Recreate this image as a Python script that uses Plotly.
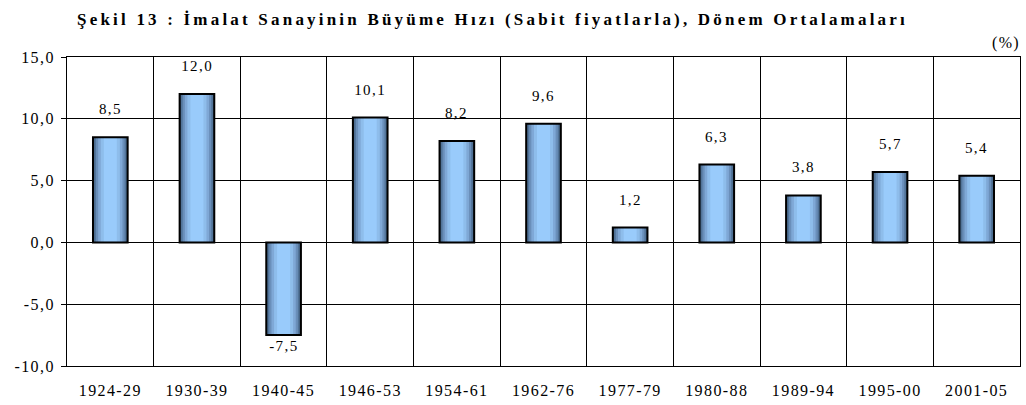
import plotly.graph_objects as go

categories = ["1924-29", "1930-39", "1940-45", "1946-53", "1954-61", "1962-76",
              "1977-79", "1980-88", "1989-94", "1995-00", "2001-05"]
values = [8.5, 12.0, -7.5, 10.1, 8.2, 9.6, 1.2, 6.3, 3.8, 5.7, 5.4]
y_ticks = [-10, -5, 0, 5, 10, 15]
y_ticktext = ["-10,0", "-5,0", "0,0", "5,0", "10,0", "15,0"]

FONT = "Liberation Serif"

# gradient simulated by overlaid bars of decreasing width
layers = [
    (0.40, "#3d5c7e"),
    (0.37, "#527499"),
    (0.33, "#6a8fba"),
    (0.28, "#7fa8d6"),
    (0.22, "#8ebdeb"),
    (0.15, "#99cbfb"),
]

fig = go.Figure()
for w, c in layers:
    fig.add_trace(go.Bar(x=categories, y=values, width=w, marker=dict(color=c, line=dict(width=0)),
                         hoverinfo="skip", showlegend=False))
fig.add_trace(go.Bar(x=categories, y=values, width=0.40,
                     marker=dict(color="rgba(0,0,0,0)", line=dict(color="black", width=2)),
                     hoverinfo="skip", showlegend=False))

annotations = []
for c, v in zip(categories, values):
    annotations.append(dict(x=c, y=v, text=f"{v:.1f}".replace(".", ","), showarrow=False,
                            xref="x", yref="y", yanchor="middle",
                            yshift=28 if v >= 0 else -11,
                            font=dict(family=FONT, size=15, color="black")))
annotations.append(dict(text="(%)", xref="paper", yref="paper", x=1.0, y=1.0, xanchor="right",
                        yanchor="bottom", yshift=3, showarrow=False,
                        font=dict(family=FONT, size=16, color="black")))

fig.update_layout(
    barmode="overlay",
    width=1026, height=405,
    margin=dict(l=67, r=6, t=57, b=39, autoexpand=False),
    paper_bgcolor="white", plot_bgcolor="white",
    font=dict(family=FONT, size=15, color="black"),
    title=dict(text="Şekil 13 : İmalat Sanayinin Büyüme Hızı (Sabit fiyatlarla), Dönem Ortalamaları",
               x=0.4465, xanchor="center", xref="paper", y=1 - 19 / 405, yref="container",
               yanchor="middle", font=dict(family=FONT, size=17, color="black", weight="bold")),
    annotations=annotations,
)
fig.update_xaxes(type="category", tickson="boundaries", showgrid=True, gridcolor="black", gridwidth=1,
                 ticks="", showline=True, linecolor="black", linewidth=1, mirror=True, automargin=False,
                 tickfont=dict(family=FONT, size=16), ticklabelstandoff=10)
fig.update_yaxes(range=[-10, 15], tickvals=y_ticks, ticktext=y_ticktext, showgrid=True, gridcolor="black",
                 gridwidth=1, zeroline=True, zerolinecolor="black", zerolinewidth=1, automargin=False,
                 ticks="outside", ticklen=5, tickcolor="black", showline=True, linecolor="black",
                 linewidth=1, mirror=True, tickfont=dict(family=FONT, size=16), ticklabelstandoff=3)

post = """
document.body.style.margin='0';
var st=document.createElement('style');
st.textContent='svg text{letter-spacing:1.4px;} svg text.gtitle{letter-spacing:3.2px;}';
document.head.appendChild(st);
"""
fig.write_html("out.html", post_script=post, config={"displayModeBar": False})
